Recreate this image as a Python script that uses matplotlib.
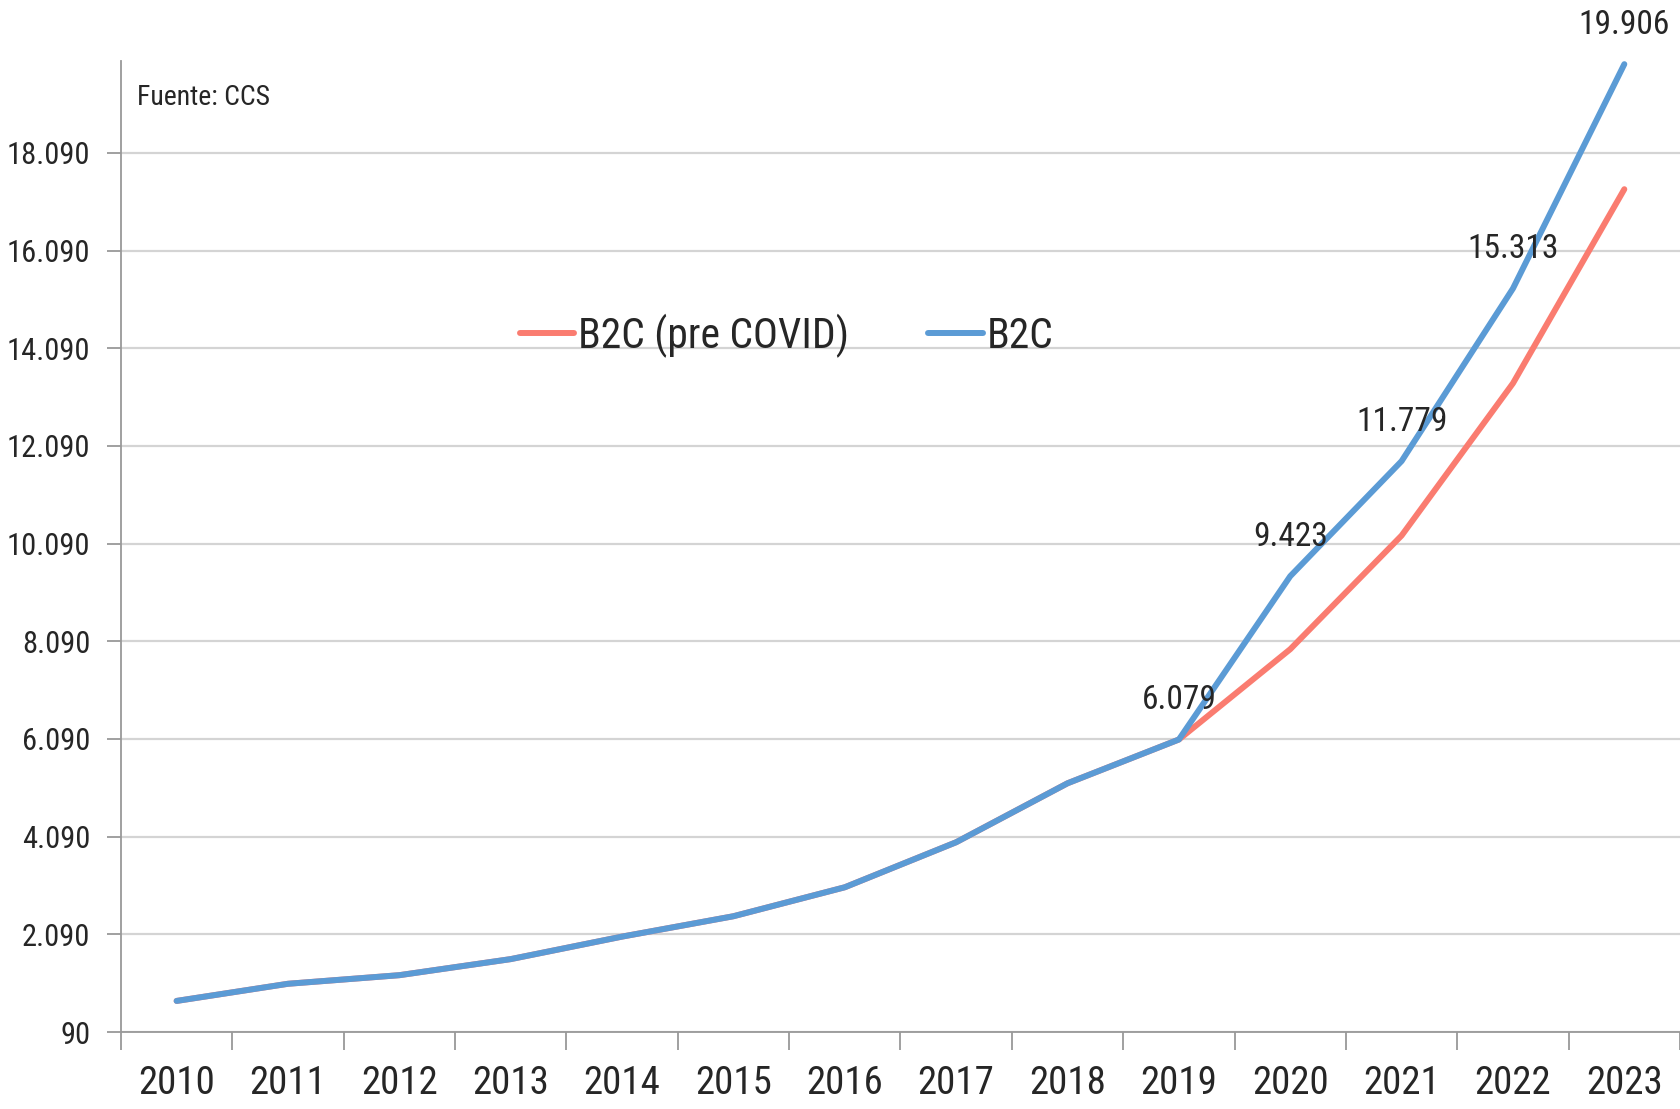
import matplotlib
matplotlib.use("Agg")
import matplotlib.pyplot as plt

plt.rcParams['font.family'] = ['Liberation Sans Narrow', 'Roboto Condensed', 'DejaVu Sans']

years = ["2010", "2011", "2012", "2013", "2014", "2015", "2016",
         "2017", "2018", "2019", "2020", "2021", "2022", "2023"]
b2c_pre_covid = [727, 1078, 1254, 1583, 2044, 2461, 3054,
                 3976, 5183, 6079, 7928, 10255, 13372, 17346]
b2c = [727, 1078, 1254, 1583, 2044, 2461, 3054,
       3976, 5183, 6079, 9423, 11779, 15313, 19906]
labelled_years = ["2019", "2020", "2021", "2022", "2023"]
y_ticks = [90, 2090, 4090, 6090, 8090, 10090, 12090, 14090, 16090, 18090]

RED = "#FA7C70"
BLUE = "#5B9BD5"
TXT = "#262626"


def miles(v):
    return f"{v:,}".replace(",", ".")


fig = plt.figure(figsize=(16.8, 11.09), dpi=100)
ax = fig.add_axes([0.072, 0.0694, 0.928, 0.876])

x = list(range(len(years)))
ax.plot(x, b2c_pre_covid, color=RED, lw=4.3, solid_capstyle="round",
        label="B2C (pre COVID)", zorder=3)
ax.plot(x, b2c, color=BLUE, lw=4.3, solid_capstyle="round",
        label="B2C", zorder=4)

for yr in labelled_years:
    i = years.index(yr)
    ax.annotate(miles(b2c[i]), (i, b2c[i]), xytext=(0, 17),
                textcoords="offset points", ha="center", va="bottom",
                fontsize=24, color=TXT, zorder=5)

ax.set_xlim(-0.5, len(years) - 0.5)
ax.set_ylim(90, 19980)

ax.set_yticks(y_ticks)
ax.set_yticklabels([miles(v) for v in y_ticks])
ax.set_xticks(x)
ax.set_xticklabels(years)
ax.set_xticks([i + 0.5 for i in range(-1, len(years))], minor=True)

ax.tick_params(axis="x", which="major", length=0, pad=24, labelsize=28, labelcolor=TXT)
ax.tick_params(axis="x", which="minor", length=13, width=1.3, color="#999999")
ax.tick_params(axis="y", length=10, width=1.3, color="#999999", labelsize=22,
               labelcolor=TXT, pad=12)

ax.grid(axis="y", color="#D4D4D4", lw=1.6)
ax.set_axisbelow(True)
for s in ["top", "right"]:
    ax.spines[s].set_visible(False)
for s in ["left", "bottom"]:
    ax.spines[s].set_color("#999999")
    ax.spines[s].set_linewidth(1.3)

ax.text(0.010, 0.962, "Fuente: CCS", transform=ax.transAxes, fontsize=20,
        color=TXT, ha="left", va="center")

ax.legend(loc="center", bbox_to_anchor=(0.427, 0.717), ncol=2, frameon=False,
          fontsize=30, handlelength=1.3, handletextpad=0.1, columnspacing=1.9,
          labelcolor=TXT)

fig.savefig("out.png", dpi=100, facecolor="white")
